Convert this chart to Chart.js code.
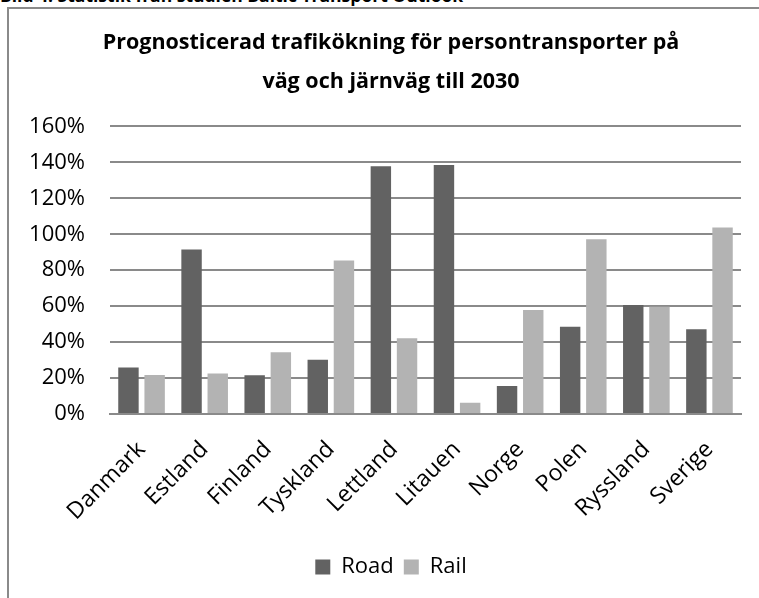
<!DOCTYPE html>
<html lang="sv">
<head>
<meta charset="utf-8">
<script src="https://cdn.jsdelivr.net/npm/chart.js@4.4.1/dist/chart.umd.min.js"></script>
<style>
  html, body { margin: 0; padding: 0; background: #fff; overflow: hidden; }
  body { width: 759px; height: 598px; position: relative; }
  #rubrik {
    position: absolute; left: 0; top: -15px; white-space: nowrap;
    font: bold 17.5px "Open Sans", sans-serif; line-height: 20px; color: #000;
  }
  #ram {
    position: absolute; left: 7px; top: 7px; width: 780px; height: 620px;
    border: 2px solid #8a8a8a;
  }
  #wrap { position: absolute; left: 10px; top: 10px; width: 762px; height: 588px; }
</style>
</head>
<body>
<div id="rubrik">Bild 4: Statistik från studien Baltic Transport Outlook</div>
<div id="ram"></div>
<div id="wrap"><canvas id="grafico"></canvas></div>
<script>
const paises = ["Danmark", "Estland", "Finland", "Tyskland", "Lettland", "Litauen", "Norge", "Polen", "Ryssland", "Sverige"];
const road = [25.9, 91.5, 21.5, 30.2, 137.8, 138.5, 15.6, 48.5, 60.7, 47.2];
const rail = [21.7, 22.6, 34.3, 85.4, 42.2, 6.3, 57.8, 97.2, 59.6, 103.7];
const yMax = 160;
const yStep = 20;

const fonte = "'Open Sans', sans-serif";

new Chart(document.getElementById("grafico"), {
  type: "bar",
  data: {
    labels: paises,
    datasets: [
      { label: "Road", data: road, backgroundColor: "#626262" },
      { label: "Rail", data: rail, backgroundColor: "#b3b3b3" }
    ]
  },
  options: {
    responsive: true,
    maintainAspectRatio: false,
    animation: false,
    categoryPercentage: 0.83,
    barPercentage: 0.78,
    layout: { padding: { left: 0, right: 0, top: 0, bottom: 10 } },
    plugins: {
      title: {
        display: true,
        text: ["Prognosticerad trafikökning för persontransporter på", "väg och järnväg till 2030"],
        color: "#000",
        font: { family: fonte, size: 21.5, weight: "bold", lineHeight: 1.8 },
        padding: { top: 14, bottom: 25 }
      },
      legend: {
        position: "bottom",
        labels: {
          color: "#000",
          font: { family: fonte, size: 22 },
          boxWidth: 15,
          boxHeight: 15,
          padding: 10
        }
      },
      tooltip: { enabled: false }
    },
    scales: {
      x: {
        grid: { display: false, drawTicks: false },
        border: { color: "#8a8a8a", width: 2 },
        ticks: {
          color: "#000",
          font: { family: fonte, size: 23 },
          minRotation: 45,
          maxRotation: 45,
          padding: 22
        },
        afterFit: (eixo) => { eixo.height = 132; }
      },
      y: {
        min: 0,
        max: yMax,
        grid: { color: "#8a8a8a", lineWidth: 2, drawTicks: false },
        border: { display: false },
        ticks: {
          stepSize: yStep,
          color: "#000",
          font: { family: fonte, size: 22 },
          padding: 25,
          callback: v => v + "%"
        },
        afterFit: (eixo) => { eixo.width = 100; }
      },
      // espaço vazio à direita, para o título ficar centrado na moldura
      direita: {
        position: "right",
        grid: { display: false, drawTicks: false },
        border: { display: false },
        ticks: { display: false },
        afterFit: (eixo) => { eixo.width = 31; }
      }
    }
  }
});
</script>
</body>
</html>
